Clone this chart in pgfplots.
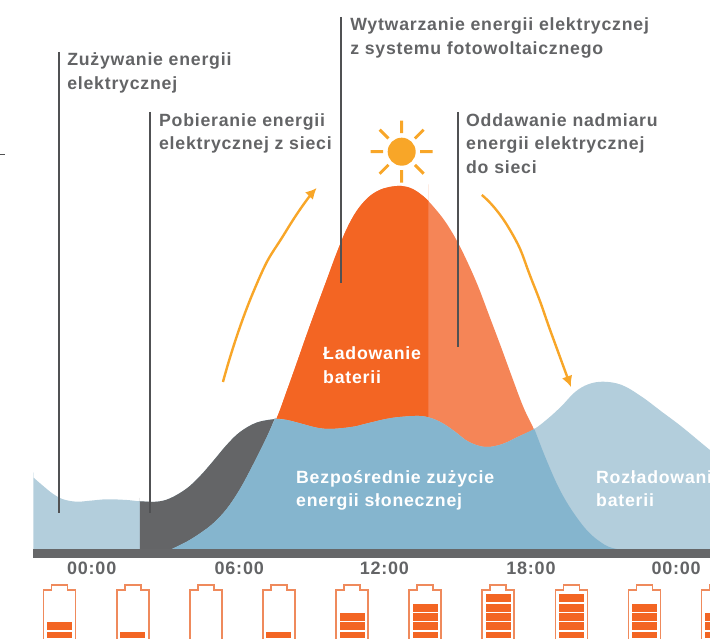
\documentclass[border=0pt]{standalone}
\usepackage{pgfplots}
\usepackage{pgfplotstable}
\usepackage{fontspec}
\pgfplotsset{compat=1.18}
\usetikzlibrary{arrows.meta}
\setmainfont{Liberation Sans}[LetterSpace=4.4]
\definecolor{txtgray}{HTML}{636466}
\definecolor{bandgray}{HTML}{666769}
\definecolor{gridgray}{HTML}{646567}
\definecolor{leader}{HTML}{505153}
\definecolor{loadblue}{HTML}{B3CEDC}
\definecolor{selfblue}{HTML}{85B5CE}
\definecolor{solarorange}{HTML}{F36523}
\definecolor{exportorange}{HTML}{F58557}
\definecolor{sunyellow}{HTML}{F8A628}
\definecolor{batline}{HTML}{EF8A5C}
\pgfdeclareplotmark{battery}{%
  \pgfpathmoveto{\pgfpoint{-16pt}{-16pt}}%
  \pgfpathlineto{\pgfpoint{-16pt}{41pt}}%
  \pgfpathlineto{\pgfpoint{-8pt}{41pt}}%
  \pgfpathlineto{\pgfpoint{-8pt}{46pt}}%
  \pgfpathlineto{\pgfpoint{8pt}{46pt}}%
  \pgfpathlineto{\pgfpoint{8pt}{41pt}}%
  \pgfpathlineto{\pgfpoint{16pt}{41pt}}%
  \pgfpathlineto{\pgfpoint{16pt}{-16pt}}%
  \pgfusepathqstroke}
\pgfdeclareplotmark{sun}{%
  \pgfpathcircle{\pgfpointorigin}{14pt}\pgfusepathqfill
  \pgfsetlinewidth{3pt}%
  \pgfpathmoveto{\pgfpoint{18.5pt}{0pt}}\pgfpathlineto{\pgfpoint{31pt}{0pt}}%
  \pgfpathmoveto{\pgfpoint{-18.5pt}{0pt}}\pgfpathlineto{\pgfpoint{-31pt}{0pt}}%
  \pgfpathmoveto{\pgfpoint{0pt}{18.5pt}}\pgfpathlineto{\pgfpoint{0pt}{31pt}}%
  \pgfpathmoveto{\pgfpoint{0pt}{-18.5pt}}\pgfpathlineto{\pgfpoint{0pt}{-31pt}}%
  \pgfpathmoveto{\pgfpoint{13.2pt}{13.2pt}}\pgfpathlineto{\pgfpoint{22pt}{22pt}}%
  \pgfpathmoveto{\pgfpoint{-13.2pt}{13.2pt}}\pgfpathlineto{\pgfpoint{-22pt}{22pt}}%
  \pgfpathmoveto{\pgfpoint{13.2pt}{-13.2pt}}\pgfpathlineto{\pgfpoint{22pt}{-22pt}}%
  \pgfpathmoveto{\pgfpoint{-13.2pt}{-13.2pt}}\pgfpathlineto{\pgfpoint{-22pt}{-22pt}}%
  \pgfusepathqstroke}
\newcommand{\lab}[4][txtgray]{\node[anchor=base west,inner sep=0pt,text=#1,font=\fontsize{17.7}{19}\selectfont\bfseries] at (axis cs:#2,#3) {#4};}
\pgfplotstableread{
h      s1 s2 s3 s4 s5
-1.31  1  1  0  0  0
1.69   1  0  0  0  0
4.69   0  0  0  0  0
7.69   1  0  0  0  0
10.69  1  1  1  0  0
13.69  1  1  1  1  0
16.69  1  1  1  1  1
19.69  1  1  1  1  1
22.69  1  1  1  1  0
25.69  1  1  1  0  0
}\battery
\begin{document}
\begin{tikzpicture}[x=1pt,y=1pt]
\useasboundingbox (0,0) rectangle (710,639);
% ---------- main chart
\begin{axis}[
  at={(0pt,81pt)},anchor=south west,
  width=710pt,height=558pt,scale only axis,
  xmin=-3.766,xmax=25.392,ymin=-9,ymax=549,
  axis line style={draw=none},
  ytick=\empty,
  xtick={0,6.06,12.02,18.04,24},
  xticklabels={00:00,06:00,12:00,18:00,00:00},
  major tick length=0pt,
  xticklabel style={font=\fontsize{18}{19}\selectfont\bfseries,text=txtgray,yshift=-0.5pt},
]
% solar production, all of it (the part left above the load goes to the grid)
\addplot[fill=exportorange,draw=none,smooth,tension=0.6] coordinates {
 (3.29,0)(3.90,7.3)(4.45,15.7)(4.99,25.7)(5.54,40)(6.09,60)(6.64,85)(7.19,112)(7.60,131)
 (8.01,158)(8.42,186)(8.83,214.5)(9.24,242)(9.65,269)(10.06,296)(10.47,320)(10.88,338)(11.33,351)
 (11.78,358.5)(12.23,362)(12.73,363)(13.18,360)(13.63,352.5)(14.08,341)(14.53,327)(14.98,309)
 (15.43,287)(15.88,262)(16.33,233)(16.78,204)(17.23,174)(17.72,142.3)(18.16,119.7)
 (18.62,92.3)(19.16,62.3)(19.71,39)(20.39,17.3)(21.08,4)(21.56,0)};
% battery charging
\addplot[fill=solarorange,draw=none,smooth,tension=0.6] coordinates {
 (3.29,0)(3.90,7.3)(4.45,15.7)(4.99,25.7)(5.54,40)(6.09,60)(6.64,85)(7.19,112)(7.60,131)
 (8.01,158)(8.42,186)(8.83,214.5)(9.24,242)(9.65,269)(10.06,296)(10.47,320)(10.88,338)(11.33,351)
 (11.78,358.5)(12.23,362)(12.73,363)(13.18,360)(13.63,352.5)(13.83,348)(13.83,348)(13.83,346)(13.83,100)};
% load
\addplot[fill=loadblue,draw=none,smooth,tension=0.6] coordinates {
 (-2.40,0)(-2.40,71.7)(-2.40,71.7)(-2.37,71)(-1.99,63)(-1.58,55)(-1.17,49.7)(-0.62,47.3)(-0.07,48.3)
 (0.62,49.7)(1.44,49)(1.98,47.7)(2.67,47.3)(3.22,50.7)(3.90,60.5)(4.45,73)(4.99,88)(5.54,104)
 (6.09,117)(6.78,126.5)(7.53,130)(8.01,129)(8.55,125.7)(9.24,121.3)(9.79,120)(10.47,121.3)
 (10.81,122.5)(11.50,126.7)(12.32,131)(13.28,133)(13.82,131.7)(14.37,126.3)(14.92,117.3)
 (15.47,107.3)(16.15,102)(16.84,104.7)(17.52,112.3)(18.16,119.7)(18.75,130.7)(19.30,143)
 (19.85,157)(20.39,164.7)(21.01,167.3)(21.77,164)(22.59,152.3)(23.41,137.3)(24.23,122.3)
 (25.39,99)(25.8,92)(25.8,0)};
% taken from the grid
\addplot[fill=gridgray,draw=none,smooth,tension=0.6] coordinates {
 (1.98,0)(1.98,47.7)(1.98,47.7)(2.02,47.68)(2.67,47.3)(3.22,50.7)(3.90,60.5)(4.45,73)(4.99,88)(5.54,104)
 (6.09,117)(6.78,126.5)(7.53,130)(7.53,130)(7.50,129.6)(7.19,112)(6.64,85)(6.09,60)(5.54,40)(4.99,25.7)
 (4.45,15.7)(3.90,7.3)(3.29,0)};
% direct use of solar energy
\addplot[fill=selfblue,draw=none,smooth,tension=0.6] coordinates {
 (3.29,0)(3.90,7.3)(4.45,15.7)(4.99,25.7)(5.54,40)(6.09,60)(6.64,85)(7.19,112)(7.53,130)(7.53,130)(7.57,130)
 (8.01,129)(8.55,125.7)(9.24,121.3)(9.79,120)(10.47,121.3)(10.81,122.5)(11.50,126.7)(12.32,131)
 (13.28,133)(13.82,131.7)(14.37,126.3)(14.92,117.3)(15.47,107.3)(16.15,102)(16.84,104.7)
 (17.52,112.3)(18.16,119.7)(18.16,119.7)(18.2,118.6)(18.62,92.3)(19.16,62.3)(19.71,39)(20.39,17.3)(21.08,4)(21.56,0)};
% time band
\addplot[fill=bandgray,draw=none] coordinates {(-2.40,-9)(-2.40,0)(25.5,0)(25.5,-9)};
% leaders
\addplot[leader,line width=1.5pt] coordinates {(-1.34,497)(-1.34,36)};
\addplot[leader,line width=1.5pt] coordinates {(2.39,437)(2.39,36)};
\addplot[leader,line width=1.5pt] coordinates {(10.24,532)(10.24,266)};
\addplot[leader,line width=1.5pt] coordinates {(15.04,437)(15.04,202)};
\addplot[leader,line width=1pt] coordinates {(-3.766,394)(-3.56,394)};
% sun
\addplot[only marks,mark=sun,mark options={draw=sunyellow,fill=sunyellow}] coordinates {(12.73,397.3)};
% arrows
\addplot[sunyellow,line width=2.4pt,smooth,tension=1,-{Latex[length=11pt,width=11pt]}] coordinates {
 (5.39,167)(6.62,256)(8.01,319)(9.24,361)};
\addplot[sunyellow,line width=2.4pt,smooth,tension=1,-{Latex[length=11pt,width=11pt]}] coordinates {
 (16.02,354)(17.18,319)(18.12,266)(18.90,214)(19.68,162)};
% labels
\lab{-1.01}{483}{Zużywanie energii}
\lab{-1.01}{459}{elektrycznej}
\lab{2.76}{422}{Pobieranie energii}
\lab{2.76}{399}{elektrycznej z sieci}
\lab{10.61}{518}{Wytwarzanie energii elektrycznej}
\lab{10.61}{494}{z systemu fotowoltaicznego}
\lab{15.37}{422}{Oddawanie nadmiaru}
\lab{15.37}{399}{energii elektrycznej}
\lab{15.37}{375}{do sieci}
\lab[white]{9.50}{189}{Ładowanie}
\lab[white]{9.50}{165}{baterii}
\lab[white]{8.39}{65}{Bezpośrednie zużycie}
\lab[white]{8.39}{42}{energii słonecznej}
\lab[white]{20.71}{65}{Rozładowanie}
\lab[white]{20.71}{42}{baterii}
\end{axis}
% ---------- battery levels
\begin{axis}[
  at={(0pt,0pt)},anchor=south west,
  width=740pt,height=81pt,scale only axis,
  xmin=-3.766,xmax=26.624,ymin=0.14,ymax=8.82,
  axis lines=none,
  ybar stacked,bar width=26.2pt,
]
\pgfplotsinvokeforeach{s1,s2,s3,s4,s5}{
 \addplot[fill=solarorange,draw=white,line width=1.2pt] table[x=h,y=#1] {\battery};
}
\end{axis}
\begin{axis}[
  at={(0pt,0pt)},anchor=south west,
  width=740pt,height=81pt,scale only axis,
  xmin=-3.766,xmax=26.624,ymin=0.14,ymax=8.82,
  axis lines=none,
]
\addplot[only marks,mark=battery,mark options={draw=batline,line width=1.3pt}] table[x=h,y expr=1] {\battery};
\end{axis}
\end{tikzpicture}
\end{document}
